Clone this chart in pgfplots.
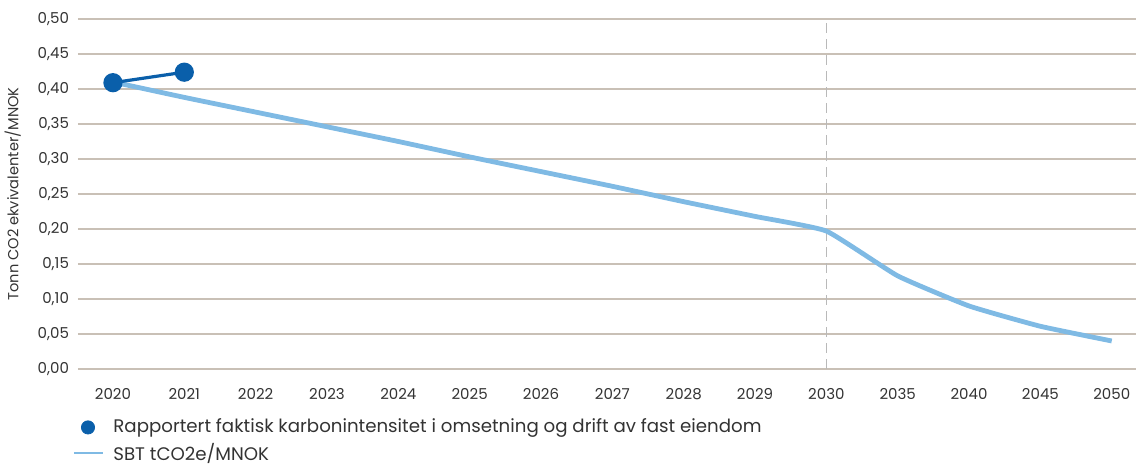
\documentclass[border=0pt]{standalone}
\usepackage{fontspec}
\setmainfont{Poppins}
\usepackage{pgfplots}
\pgfplotsset{compat=1.18}
\definecolor{darkblue}{HTML}{0A5FAA}
\definecolor{lightblue}{HTML}{7FBAE4}
\definecolor{gridc}{HTML}{C9C0B6}
\definecolor{txt}{HTML}{333333}
\begin{document}
\begin{tikzpicture}
\begin{axis}[
  scale only axis,
  width=529pt, height=175pt,
  xmin=-0.49, xmax=14.34,
  ymin=0, ymax=0.5,
  ytick={0,0.05,...,0.5},
  xtick={0,...,14},
  xticklabels={2020,2021,2022,2023,2024,2025,2026,2027,2028,2029,2030,2035,2040,2045,2050},
  axis line style={draw=none},
  major tick length=0pt,
  ymajorgrids,
  grid style={gridc, line width=0.7pt},
  /pgf/number format/.cd, fixed, fixed zerofill, precision=2, use comma, assume math mode=true,
  /pgfplots/.cd,
  yticklabel style={font=\fontsize{7.5}{9}\selectfont, text=txt, xshift=-1pt},
  xticklabel style={font=\fontsize{7.5}{9}\selectfont, text=txt, yshift=-6pt},
  ylabel={Tonn CO2 ekvivalenter/MNOK},
  ylabel style={font=\fontsize{7.3}{9}\selectfont, text=txt, yshift=1.5pt},
  legend style={at={(0,0)}, xshift=-2.5pt, yshift=-23pt, anchor=north west, draw=none, fill=none,
    inner sep=0pt, outer sep=0pt,
    font=\fontsize{9.1}{10}\selectfont, text=txt, row sep=-0.5pt,
    /tikz/every even column/.append style={column sep=0pt}},
  legend cell align=left,
  clip=false,
]
\addplot[gray!55, dash pattern=on 5pt off 3pt, line width=0.6pt, forget plot] coordinates {(10,0) (10,0.5)};
\addplot[lightblue, line width=2.4pt, smooth, tension=0.25, forget plot] coordinates {
(0,0.410) (1,0.388) (2,0.367) (3,0.346) (4,0.325) (5,0.303) (6,0.282) (7,0.261) (8,0.239) (9,0.218) (10,0.197)
(11,0.133) (12,0.090) (13,0.061) (14,0.040)};
\addplot[darkblue, line width=1.6pt, mark=*, mark size=4pt, mark options={solid}, forget plot] coordinates {(0,0.409) (1,0.424)};
\addlegendimage{legend image code/.code={\fill[darkblue] (7pt,0pt) circle (3.3pt); \path (0pt,0pt) (17.5pt,0pt);}}
\addlegendentry{Rapportert faktisk karbonintensitet i omsetning og drift av fast eiendom}
\addlegendimage{legend image code/.code={\draw[lightblue, line width=1pt] (0pt,0pt) -- (14.5pt,0pt); \path (17.5pt,0pt);}}
\addlegendentry{SBT tCO2e/MNOK}
\end{axis}
\path (current axis.south west) ++(-39pt,-48.5pt) coordinate (bl);
\path (current axis.north east) ++(0pt,9.5pt) coordinate (tr);
\pgfresetboundingbox
\useasboundingbox (bl) rectangle (tr);
\end{tikzpicture}
\end{document}
